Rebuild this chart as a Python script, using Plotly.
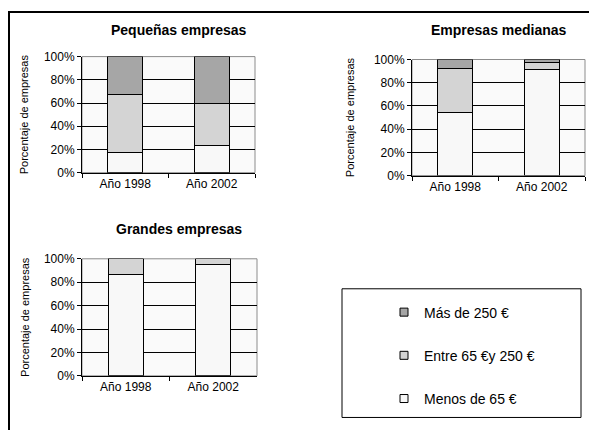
import plotly.graph_objects as go

# datos (porcentaje de empresas)
anios = ["Año 1998", "Año 2002"]
tramos = ["Menos de 65 €", "Entre 65 €y 250 €", "Más de 250 €"]
colores = ["#f8f8f8", "#d4d4d4", "#a6a6a6"]

pequenas = {
    "Menos de 65 €": [17, 23],
    "Entre 65 €y 250 €": [50, 37],
    "Más de 250 €": [33, 40],
}
medianas = {
    "Menos de 65 €": [54, 91.5],
    "Entre 65 €y 250 €": [38.5, 6],
    "Más de 250 €": [7.5, 2.5],
}
grandes = {
    "Menos de 65 €": [87, 95],
    "Entre 65 €y 250 €": [13, 5],
    "Más de 250 €": [0, 0],
}

paneles = [
    ("Pequeñas empresas", pequenas, "x", "y"),
    ("Empresas medianas", medianas, "x2", "y2"),
    ("Grandes empresas", grandes, "x3", "y3"),
]

W, H = 597, 430
OFF = 8  # margen por defecto del <body> en la página
FONT = "Liberation Sans, Arial, sans-serif"

fig = go.Figure()

for titulo, datos, xa, ya in paneles:
    for tramo, color in zip(tramos, colores):
        fig.add_trace(go.Bar(
            x=anios,
            y=datos[tramo],
            name=tramo,
            xaxis=xa,
            yaxis=ya,
            width=0.4,
            marker=dict(color=color, line=dict(color="black", width=1)),
            showlegend=False,
        ))

# leyenda: cuadritos pequeños, orden inverso al apilado
for tramo, color in reversed(list(zip(tramos, colores))):
    fig.add_trace(go.Scatter(
        x=[None], y=[None], mode="markers", name=tramo,
        xaxis="x", yaxis="y", legendgroup=tramo,
        marker=dict(symbol="square", size=8, color=color,
                    line=dict(color="black", width=1)),
    ))


def px_x(v):
    return (v - OFF) / W


def px_y(v):
    return 1 - (v - OFF) / H


# posiciones de las áreas de trazado (en píxeles del original) y separación del título Y
areas = {
    "": ((82, 255), (51, 171), 13),
    "2": ((412, 585), (54, 174), 17),
    "3": ((82, 257), (260, 381), 12),
}

layout_axes = {}
for suf, ((x0, x1), (y0, y1), standoff) in areas.items():
    layout_axes["xaxis" + suf] = dict(
        domain=[px_x(x0), px_x(x1)],
        anchor="y" + suf,
        type="category",
        showline=True, linecolor="black", linewidth=1,
        ticks="outside", tickson="boundaries", ticklen=4, tickcolor="black",
        showgrid=False,
        tickfont=dict(size=12, color="black"),
    )
    layout_axes["yaxis" + suf] = dict(
        domain=[px_y(y1), px_y(y0)],
        anchor="x" + suf,
        range=[0, 100],
        dtick=20,
        ticksuffix="%",
        showline=True, linecolor="black", linewidth=1,
        ticks="outside", ticklen=4, tickcolor="black",
        showgrid=True, gridcolor="black", gridwidth=1,
        zeroline=False,
        tickfont=dict(size=12, color="black"),
        title=dict(text="Porcentaje de empresas", font=dict(size=11, color="black"),
                   standoff=standoff),
    )

shapes = []
# borde gris del área de trazado
for suf in ["", "2", "3"]:
    shapes.append(dict(
        type="rect", xref=("x" + suf + " domain"), yref=("y" + suf + " domain"),
        x0=0, x1=1, y0=0, y1=1, line=dict(color="#8c8c8c", width=1), layer="below",
    ))
# marco exterior
shapes.append(dict(type="rect", xref="paper", yref="paper",
                   x0=px_x(9), x1=1.05, y0=-0.05, y1=px_y(5),
                   line=dict(color="black", width=2)))
# recuadro de la leyenda
shapes.append(dict(type="rect", xref="paper", yref="paper",
                   x0=px_x(342), x1=px_x(581), y0=px_y(424), y1=px_y(291),
                   line=dict(color="black", width=1)))

annotations = []
for (titulo, _, _, _), cx, cy in zip(paneles, [179, 499, 179], [23, 23, 229]):
    annotations.append(dict(
        text="<b>" + titulo + "</b>", x=px_x(cx), y=px_y(cy), xref="paper", yref="paper",
        showarrow=False, xanchor="center", yanchor="middle",
        font=dict(size=14, color="black"),
    ))

fig.update_layout(
    width=W, height=H,
    margin=dict(l=0, r=0, t=0, b=0),
    barmode="stack",
    paper_bgcolor="white",
    plot_bgcolor="#fafafa",
    font=dict(family=FONT, color="black"),
    shapes=shapes,
    annotations=annotations,
    showlegend=True,
    legend=dict(
        x=px_x(384), y=px_y(299), xanchor="left", yanchor="top",
        bgcolor="rgba(0,0,0,0)", borderwidth=0,
        font=dict(size=14, color="black"),
        tracegroupgap=22,
        itemwidth=30,
    ),
    **layout_axes,
)

fig.write_html("out.html")
